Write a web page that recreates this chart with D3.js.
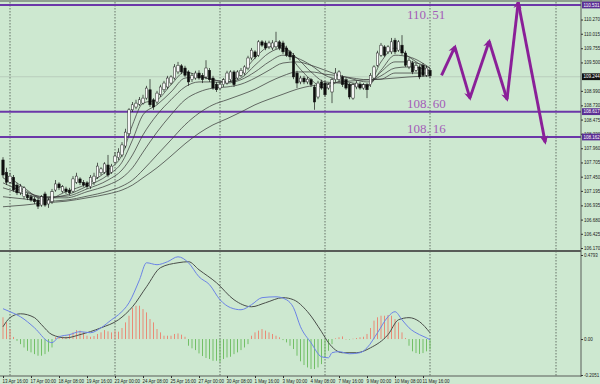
<!DOCTYPE html>
<html><head><meta charset="utf-8">
<script src="https://cdn.jsdelivr.net/npm/d3@7"></script>
<style>body{margin:0;background:#cde8d0}svg{display:block}</style>
</head><body><svg id="c" width="600" height="384"></svg>
<script>
// ---------- DATA ----------
// 4H candles [open, high, low, close], 13 Apr 16:00 .. 14 May 00:00
const candles = [
[107.75,107.80,107.43,107.48],[107.53,107.61,107.30,107.35],[107.35,107.52,107.32,107.46],[107.44,107.48,107.18,107.21],
[107.30,107.34,107.12,107.16],[107.16,107.32,107.12,107.28],[107.09,107.28,107.05,107.25],[107.12,107.16,107.03,107.07],
[107.09,107.12,107.00,107.03],[107.05,107.09,106.96,107.00],[107.03,107.07,106.87,106.92],[106.94,107.12,106.91,107.09],
[107.14,107.18,106.91,106.94],[106.96,107.07,106.89,107.03],[107.00,107.23,106.96,107.18],[107.21,107.39,107.18,107.32],
[107.32,107.35,107.21,107.25],[107.19,107.30,107.16,107.27],[107.23,107.27,107.14,107.18],[107.21,107.25,107.12,107.16],
[107.19,107.46,107.16,107.41],[107.35,107.52,107.32,107.46],[107.41,107.44,107.30,107.34],[107.35,107.39,107.27,107.30],
[107.34,107.37,107.23,107.27],[107.27,107.48,107.23,107.44],[107.35,107.52,107.30,107.46],[107.44,107.70,107.41,107.64],
[107.52,107.62,107.48,107.59],[107.53,107.71,107.50,107.68],[107.66,107.84,107.44,107.48],[107.53,107.68,107.50,107.64],
[107.71,107.89,107.68,107.82],[107.79,107.96,107.75,107.89],[107.84,108.07,107.80,108.02],[108.00,108.31,107.96,108.25],
[108.22,108.68,108.18,108.65],[108.65,108.79,108.61,108.74],[108.70,108.83,108.66,108.77],[108.75,108.88,108.72,108.83],
[108.77,108.92,108.74,108.86],[108.86,109.08,108.83,109.04],[109.01,109.20,108.70,108.74],[108.83,108.86,108.65,108.70],
[108.79,108.99,108.75,108.95],[108.92,109.10,108.88,109.06],[109.01,109.17,108.97,109.13],[109.06,109.26,109.02,109.22],
[109.13,109.27,109.10,109.24],[109.22,109.47,109.19,109.42],[109.33,109.51,109.29,109.45],[109.44,109.47,109.29,109.33],
[109.40,109.44,109.24,109.27],[109.33,109.36,109.08,109.15],[109.19,109.31,109.15,109.27],[109.22,109.35,109.19,109.31],
[109.31,109.36,109.19,109.22],[109.27,109.31,109.13,109.19],[109.24,109.54,109.20,109.40],[109.36,109.40,109.15,109.19],
[109.22,109.26,109.01,109.04],[109.11,109.15,108.97,109.01],[109.04,109.15,109.01,109.11],[109.10,109.22,109.06,109.19],
[109.13,109.35,109.10,109.31],[109.19,109.36,109.15,109.33],[109.33,109.36,109.06,109.10],[109.22,109.36,109.19,109.33],
[109.27,109.40,109.24,109.36],[109.31,109.45,109.27,109.42],[109.40,109.62,109.36,109.58],[109.58,109.76,109.54,109.72],
[109.69,109.72,109.56,109.60],[109.63,109.90,109.60,109.87],[109.87,109.90,109.78,109.81],[109.85,109.89,109.72,109.76],
[109.78,109.89,109.74,109.85],[109.76,109.90,109.72,109.85],[109.78,110.05,109.74,109.87],[109.87,109.90,109.72,109.76],
[109.85,109.89,109.65,109.69],[109.76,109.80,109.60,109.63],[109.69,109.72,109.54,109.60],[109.63,109.67,109.20,109.24],
[109.31,109.35,109.04,109.13],[109.15,109.26,109.11,109.22],[109.22,109.26,109.11,109.15],[109.15,109.24,109.11,109.20],
[109.19,109.22,109.06,109.10],[109.06,109.10,108.65,108.79],[108.88,109.17,108.84,109.13],[109.15,109.19,109.01,109.04],
[109.13,109.17,108.88,108.92],[109.04,109.13,109.01,109.10],[108.97,109.22,108.77,109.19],[109.19,109.40,109.15,109.31],
[109.19,109.36,109.15,109.33],[109.24,109.27,109.06,109.10],[109.19,109.22,109.01,109.04],[109.10,109.13,108.84,108.88],
[108.86,109.13,108.83,109.10],[109.06,109.17,109.02,109.13],[109.11,109.15,109.01,109.04],[109.04,109.13,109.01,109.10],
[109.10,109.13,108.86,109.01],[109.10,109.31,109.06,109.27],[109.22,109.45,109.19,109.42],[109.45,109.71,109.42,109.67],
[109.63,109.85,109.60,109.81],[109.78,109.81,109.60,109.63],[109.69,109.81,109.65,109.78],[109.69,109.94,109.65,109.87],
[109.90,109.94,109.65,109.69],[109.72,109.90,109.69,109.87],[109.81,109.99,109.63,109.67],[109.67,109.71,109.42,109.45],
[109.42,109.58,109.38,109.54],[109.49,109.53,109.29,109.33],[109.36,109.49,109.33,109.45],[109.42,109.45,109.20,109.24],
[109.45,109.49,109.24,109.27],[109.27,109.44,109.24,109.40],[109.36,109.40,109.22,109.26]
];

// moving-average ribbon, read at these candle indices
const maIdx = [0,6,12,18,24,30,34,37,40,44,48,52,56,60,64,68,72,76,80,84,88,92,96,100,104,108,112,116,122];
const ma1 = [107.53,107.25,107.03,107.18,107.32,107.57,107.84,108.38,108.77,108.83,109.10,109.33,109.26,109.19,109.15,109.29,109.58,109.78,109.80,109.45,109.19,109.04,109.15,109.08,109.06,109.51,109.76,109.60,109.33];
const ma2 = [107.43,107.21,107.07,107.12,107.28,107.48,107.71,108.11,108.56,108.74,108.97,109.22,109.24,109.19,109.15,109.22,109.45,109.67,109.76,109.58,109.33,109.15,109.13,109.10,109.08,109.36,109.63,109.60,109.40];
const ma3 = [107.34,107.18,107.09,107.10,107.23,107.39,107.57,107.84,108.20,108.56,108.83,109.06,109.15,109.15,109.13,109.19,109.33,109.51,109.63,109.58,109.45,109.27,109.19,109.13,109.10,109.33,109.51,109.51,109.40];
const ma4 = [107.25,107.14,107.07,107.07,107.18,107.30,107.43,107.61,107.89,108.25,108.56,108.83,108.97,109.04,109.06,109.11,109.22,109.36,109.49,109.51,109.45,109.36,109.27,109.20,109.15,109.26,109.40,109.42,109.36];
const ma5 = [107.09,107.05,107.01,107.03,107.10,107.19,107.28,107.39,107.57,107.84,108.11,108.38,108.59,108.74,108.83,108.92,109.02,109.15,109.26,109.33,109.33,109.29,109.26,109.22,109.19,109.20,109.31,109.31,109.31];
const ma6 = [106.91,106.94,106.98,107.01,107.07,107.14,107.21,107.30,107.43,107.61,107.82,108.04,108.23,108.38,108.49,108.61,108.74,108.84,108.93,109.02,109.08,109.11,109.15,109.17,109.19,109.20,109.22,109.24,109.26];

// MACD panel
const macdPts = [[0,0.173],[2,0.156],[5,0.127],[9,0.064],[13,-0.015],[14,-0.021],[16,0.013],[19,0.025],[22,0.042],[25,0.036],[28,0.064],[31,0.110],[33,0.139],[36,0.207],[39,0.338],[41,0.435],[44,0.424],[47,0.441],[50,0.469],[53,0.435],[56,0.355],[59,0.310],[62,0.224],[65,0.179],[68,0.167],[71,0.196],[74,0.236],[78,0.241],[81,0.224],[83,0.179],[85,0.070],[88,-0.021],[91,-0.101],[93,-0.107],[94,-0.078],[96,-0.072],[99,-0.084],[102,-0.078],[104,-0.050],[107,0.036],[110,0.127],[112,0.156],[114,0.110],[116,0.064],[119,0.025],[121,0.007],[122,-0.004]];
const signalPts = [[0,0.070],[2,0.122],[5,0.144],[9,0.122],[11,0.082],[14,0.025],[18,0.007],[22,0.025],[28,0.064],[33,0.110],[37,0.184],[41,0.298],[45,0.407],[50,0.435],[53,0.441],[56,0.395],[61,0.321],[66,0.224],[71,0.184],[75,0.207],[80,0.236],[83,0.224],[87,0.156],[91,0.042],[93,-0.021],[97,-0.078],[101,-0.078],[105,-0.050],[110,0.025],[113,0.110],[116,0.122],[119,0.099],[122,0.036]];
const histogram = [0.124,0.095,0.057,0.012,-0.010,-0.029,-0.048,-0.067,-0.076,-0.086,-0.095,-0.095,-0.086,-0.072,-0.048,0.010,0.019,0.013,0.013,0.029,
0.038,0.051,0.048,0.038,0.019,0.013,0.017,0.029,0.038,0.051,0.044,0.038,0.048,0.042,0.063,0.095,0.133,0.177,0.190,0.190,
0.171,0.152,0.114,0.095,0.057,0.038,0.019,0.019,0.019,0.029,0.032,0.025,0.013,-0.038,-0.053,-0.063,-0.082,-0.097,-0.108,-0.114,
-0.124,-0.124,-0.133,-0.114,-0.105,-0.101,-0.086,-0.076,-0.063,-0.048,-0.029,0.019,0.038,0.048,0.057,0.048,0.038,0.029,0.019,0.010,
-0.006,-0.019,-0.038,-0.057,-0.095,-0.127,-0.148,-0.162,-0.171,-0.171,-0.162,-0.143,-0.105,-0.067,-0.029,0.004,0.010,0.015,0.000,-0.002,
0.002,0.006,0.010,0.013,0.029,0.063,0.105,0.124,0.133,0.133,0.137,0.133,0.114,0.095,0.038,0.006,-0.038,-0.070,-0.080,-0.085,
-0.080,-0.070,-0.060];

// key levels and labels
const levels = [110.531, 108.617, 108.162];
const levelTextA = ["110.", "108.", "108."];
const levelTextB = ["51", "60", "16"];
const levelLabelPrice = [110.28, 108.69, 108.24];
const currentPrice = 109.244;

// forecast zig-zag (candle index, price)
const forecastIdx = [125.3, 129.1, 133.4, 138.9, 144.0, 147.2, 154.9];
const forecastPrice = [109.27, 109.78, 108.86, 109.88, 108.84, 110.58, 108.07];

// axes
const priceTicks = [110.270,110.015,109.755,109.500,108.990,108.730,108.475,108.220,107.960,107.705,107.450,107.195,106.935,106.680,106.425,106.170];
const macdTicks = [0.4793, 0.00, -0.2051];
const macdTickLabels = ["0.4793", "0.00", "-0.2051"];
const dateIdx = [0,8,16,24,32,40,48,56,64,72,80,88,96,104,112,120];
const dateLabels = ["13 Apr 16:00","17 Apr 00:00","18 Apr 08:00","19 Apr 16:00","23 Apr 00:00","24 Apr 08:00","25 Apr 16:00","27 Apr 00:00","30 Apr 08:00","1 May 16:00","3 May 00:00","4 May 08:00","7 May 16:00","9 May 00:00","10 May 08:00","11 May 16:00"];
const gridIdx = [2, 32, 62, 92, 122, 158];

// ---------- DRAW ----------
const svg = d3.select('#c');
const BG = '#cde8d0', PURPLE = '#6b37a8', ARROW = '#8a1f98';
svg.append('rect').attr('width',600).attr('height',384).attr('fill',BG);

const x = d3.scaleLinear().domain([0,122]).range([3,430]);
const y = d3.scaleLinear().domain([106.17,110.531]).range([248,5]);
const ym = d3.scaleLinear().domain([-0.2051,0.4793]).range([375,255]);
const AX = 581;

// vertical period separators
svg.append('g').selectAll('line').data(gridIdx).join('line')
  .attr('x1',d=>x(d)).attr('x2',d=>x(d)).attr('y1',2).attr('y2',376)
  .attr('stroke','#3c403c').attr('stroke-width',0.7).attr('stroke-dasharray','1.5,1.5');

// current price line
svg.append('line').attr('x1',0).attr('x2',AX).attr('y1',y(currentPrice)).attr('y2',y(currentPrice))
  .attr('stroke','#b5c8b7').attr('stroke-width',0.8);

// level lines
svg.append('g').selectAll('line').data(levels).join('line')
  .attr('x1',0).attr('x2',AX).attr('y1',d=>y(d)).attr('y2',d=>y(d))
  .attr('stroke',PURPLE).attr('stroke-width',2);

// MA ribbon
const maLine = d3.line().x((d,k)=>x(maIdx[k])).y(d=>y(d)).curve(d3.curveMonotoneX);
svg.append('g').selectAll('path').data([ma1,ma2,ma3,ma4,ma5,ma6]).join('path')
  .attr('d',maLine).attr('fill','none').attr('stroke','#3d3d3d').attr('stroke-width',0.75);

// candles
const cg = svg.append('g');
cg.selectAll('line').data(candles).join('line')
  .attr('x1',(d,i)=>x(i)).attr('x2',(d,i)=>x(i))
  .attr('y1',d=>y(d[1])).attr('y2',d=>y(d[2]))
  .attr('stroke','#1a1a1a').attr('stroke-width',0.7);
cg.selectAll('rect').data(candles).join('rect')
  .attr('x',(d,i)=>x(i)-1.2).attr('width',2.4)
  .attr('y',d=>y(Math.max(d[0],d[3])))
  .attr('height',d=>Math.max(0.8, Math.abs(y(d[0])-y(d[3]))))
  .attr('fill',d=>d[3]>=d[0]?'#ffffff':'#0d0d0d')
  .attr('stroke','#1a1a1a').attr('stroke-width',0.5);

// level labels
const lt = svg.append('g').selectAll('text').data(levels).join('text')
  .attr('x',407).attr('y',(d,k)=>y(levelLabelPrice[k]))
  .attr('font-family','"Liberation Serif","DejaVu Serif",serif').attr('font-size',13)
  .attr('fill','#a35cb8');
lt.append('tspan').text((d,k)=>levelTextA[k]);
lt.append('tspan').attr('dx',3).text((d,k)=>levelTextB[k]);

// forecast arrows
const defs = svg.append('defs');
defs.append('marker').attr('id','ah').attr('viewBox','0 0 10 10').attr('refX',7).attr('refY',5)
  .attr('markerWidth',11).attr('markerHeight',9).attr('markerUnits','userSpaceOnUse').attr('orient','auto')
  .append('path').attr('d','M0,0.5 L10,5 L0,9.5 L3,5 z').attr('fill',ARROW);
const segs = d3.pairs(forecastIdx.map((v,k)=>[v,forecastPrice[k]]));
svg.append('g').selectAll('line').data(segs).join('line')
  .attr('x1',d=>x(d[0][0])).attr('y1',d=>y(d[0][1]))
  .attr('x2',d=>x(d[1][0])).attr('y2',d=>y(d[1][1]))
  .attr('stroke',ARROW).attr('stroke-width',2.9).attr('marker-end','url(#ah)');

// MACD histogram
svg.append('g').selectAll('rect').data(histogram).join('rect')
  .attr('x',(d,i)=>x(i)-0.5).attr('width',1)
  .attr('y',d=>ym(Math.max(d,0))).attr('height',d=>Math.max(0.5,Math.abs(ym(d)-ym(0))))
  .attr('fill',d=>d>=0?'#e98a76':'#72bf66');

// MACD lines
const ml = d3.line().x(d=>x(d[0])).y(d=>ym(d[1])).curve(d3.curveMonotoneX);
svg.append('path').attr('d',ml(signalPts)).attr('fill','none').attr('stroke','#4a4e4a').attr('stroke-width',1);
svg.append('path').attr('d',ml(macdPts)).attr('fill','none').attr('stroke','#6b83e6').attr('stroke-width',1);

// frame
svg.append('line').attr('x1',0).attr('x2',600).attr('y1',1).attr('y2',1).attr('stroke','#8f9f91').attr('stroke-width',2);
svg.append('line').attr('x1',0).attr('x2',AX).attr('y1',251).attr('y2',251).attr('stroke','#585c58').attr('stroke-width',2);
svg.append('line').attr('x1',0).attr('x2',AX).attr('y1',376).attr('y2',376).attr('stroke','#585c58').attr('stroke-width',1);
svg.append('line').attr('x1',AX).attr('x2',AX).attr('y1',0).attr('y2',377).attr('stroke','#585c58').attr('stroke-width',1);

const FONT = '"Liberation Sans",Arial,sans-serif';
const FS = 4.5;
// price axis
const pa = svg.append('g').attr('transform',`translate(${AX},0)`)
  .call(d3.axisRight(y).tickValues(priceTicks).tickFormat(d3.format('.3f')).tickSize(2).tickPadding(1));
pa.select('.domain').remove();
pa.selectAll('line').attr('stroke','#333');
pa.selectAll('text').attr('font-family',FONT).attr('font-size',FS).attr('fill','#222');

// MACD axis
const ma = svg.append('g').attr('transform',`translate(${AX},0)`)
  .call(d3.axisRight(ym).tickValues(macdTicks).tickFormat((d,k)=>macdTickLabels[k]).tickSize(2).tickPadding(1));
ma.select('.domain').remove();
ma.selectAll('line').attr('stroke','#333');
ma.selectAll('text').attr('font-family',FONT).attr('font-size',FS).attr('fill','#222');

// price boxes
const boxes = levels.map(v=>({v, fill:'#5b2f94'})).concat([{v:currentPrice, fill:'#111'}]);
const bg = svg.append('g').selectAll('g').data(boxes).join('g')
  .attr('transform',d=>`translate(${AX+1},${y(d.v)})`);
bg.append('rect').attr('x',0).attr('y',-3.4).attr('width',18.5).attr('height',6.8).attr('fill',d=>d.fill);
bg.append('text').attr('x',1.5).attr('dy','0.35em').attr('font-family',FONT).attr('font-size',FS)
  .attr('fill','#fff').text(d=>d3.format('.3f')(d.v));

// time axis
const ta = svg.append('g').attr('transform','translate(0,376)')
  .call(d3.axisBottom(x).tickValues(dateIdx).tickFormat((d,k)=>dateLabels[k]).tickSize(2).tickPadding(1.5));
ta.select('.domain').remove();
ta.selectAll('line').attr('stroke','#333');
ta.selectAll('text').attr('font-family',FONT).attr('font-size',FS).attr('fill','#222')
  .attr('text-anchor','start').attr('dx',-1);
</script>
</body></html>
